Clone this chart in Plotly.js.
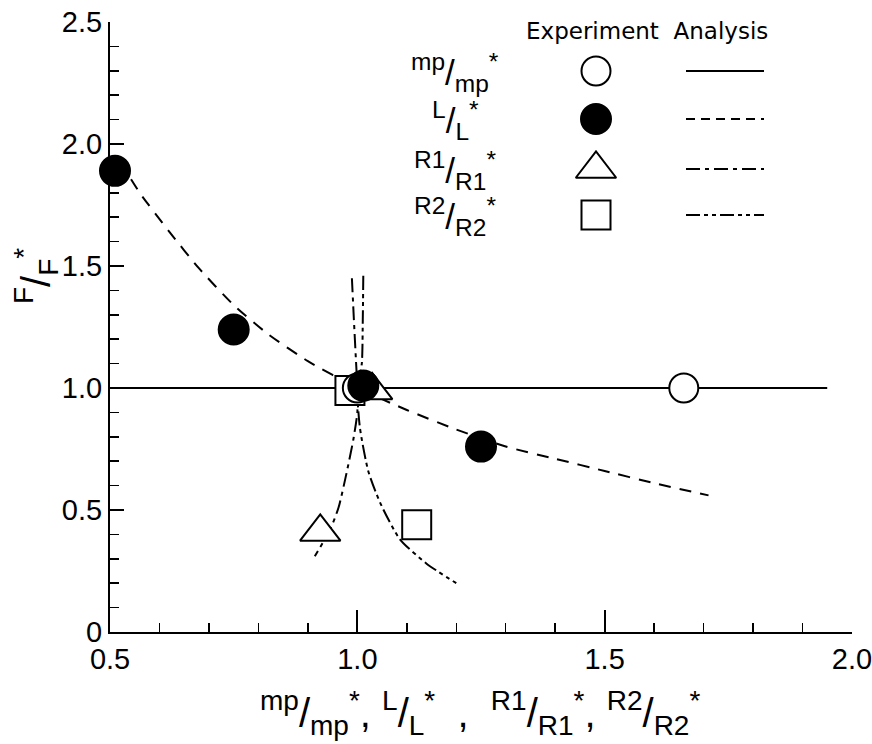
<!DOCTYPE html>
<html>
<head>
<meta charset="utf-8">
<script src="https://cdn.plot.ly/plotly-3.0.1.min.js"></script>
<style>html,body{margin:0;padding:0;background:#fff;}</style>
</head>
<body>
<div id="chart" style="width:872px;height:744px;"></div>
<script>
// ---- Experiment (markers) ----
const mpX = [1.0, 1.66];
const mpY = [1.0, 1.0];
const lX = [0.51, 0.75, 1.012, 1.25];
const lY = [1.89, 1.24, 1.01, 0.76];
const r1X = [1.03, 0.925];
const r1Y = [0.99, 0.41];
const r2X = [0.985, 1.12];
const r2Y = [0.99, 0.44];

// ---- Analysis (lines) ----
const mpLineX = [0.5, 1.95];
const mpLineY = [1.0, 1.0];
const lLineX = [0.52, 0.56, 0.62, 0.68, 0.75, 0.82, 0.9, 1.0, 1.1, 1.2, 1.3, 1.4, 1.5, 1.6, 1.71];
const lLineY = [1.93, 1.80, 1.64, 1.49, 1.34, 1.22, 1.11, 1.0, 0.91, 0.83, 0.76, 0.71, 0.66, 0.61, 0.56];
const r1LineX = [0.989, 0.993, 0.997, 1.0, 1.0, 0.992, 0.978, 0.962, 0.945, 0.914];
const r1LineY = [1.45, 1.28, 1.12, 1.0, 0.90, 0.79, 0.65, 0.51, 0.42, 0.31];
const r2LineX = [1.012, 1.011, 1.009, 1.0, 1.005, 1.022, 1.046, 1.086, 1.14, 1.2];
const r2LineY = [1.46, 1.28, 1.10, 1.0, 0.84, 0.66, 0.53, 0.38, 0.28, 0.2];

// ---- Axis ticks ----
const xTickVals = [0.5, 1.0, 1.5, 2.0];
const xTickText = ['0.5', '1.0', '1.5', '2.0'];
const yTickVals = [0, 0.5, 1.0, 1.5, 2.0, 2.5];
const yTickText = ['0', '0.5', '1.0', '1.5', '2.0', '2.5'];

// ---- Legend labels ----
const seriesLabels = [
  '<sup>mp</sup>/<sub>mp</sub><sup>*</sup>',
  '<sup>L</sup>/<sub>L</sub><sup>*</sup>',
  '<sup>R1</sup>/<sub>R1</sub><sup>*</sup>',
  '<sup>R2</sup>/<sub>R2</sub><sup>*</sup>'
];
const legendHeader = 'Experiment  Analysis';
const xTitle = '<sup>mp</sup>/<sub>mp</sub><sup>*</sup>, <sup>L</sup>/<sub>L</sub><sup>*</sup>  ,  <sup>R1</sup>/<sub>R1</sub><sup>*</sup>, <sup>R2</sup>/<sub>R2</sub><sup>*</sup>';
const yTitle = '<sup>F</sup>/<sub>F</sub><sup>*</sup>';

const BLACK = '#000';
const dashR1 = '14px,5px,4px,5px';
const dashR2 = '14px,4px,4px,4px,4px,4px';
const dashL = '12px,9px';

const symbols = ['circle', 'circle', 'triangle-up', 'square'];
const fills = ['#fff', BLACK, '#fff', '#fff'];
const sizes = [29, 30, 35, 29];
const dashes = ['solid', dashL, dashR1, dashR2];
const legDashes = ['solid', '9px,6px', dashR1, dashR2];

function lineTrace(x, y, dash) {
  return {x: x, y: y, type: 'scatter', mode: 'lines', line: {color: BLACK, width: 2, dash: dash, shape: 'spline', smoothing: 0.6}, hoverinfo: 'skip'};
}
function markerTrace(x, y, i) {
  return {x: x, y: y, type: 'scatter', mode: 'markers', cliponaxis: false,
    marker: {symbol: symbols[i], size: sizes[i], color: fills[i], line: {color: BLACK, width: 2}}, hoverinfo: 'skip'};
}

const data = [
  lineTrace(mpLineX, mpLineY, dashes[0]),
  lineTrace(lLineX, lLineY, dashes[1]),
  lineTrace(r1LineX, r1LineY, dashes[2]),
  lineTrace(r2LineX, r2LineY, dashes[3]),
  markerTrace(r2X, r2Y, 3),
  markerTrace(r1X, r1Y, 2),
  markerTrace(mpX, mpY, 0),
  markerTrace(lX, lY, 1)
];

// ---- Custom legend on an overlay axis in pixel units ----
const legRowY = [71, 119, 169, 215];
const legMarkerX = 596;
const legLineX0 = 686, legLineX1 = 764;
const annotations = [];
legRowY.forEach(function (py, i) {
  data.push({x: [legMarkerX], y: [py], xaxis: 'x2', yaxis: 'y2', type: 'scatter', mode: 'markers', cliponaxis: false,
    marker: {symbol: symbols[i], size: sizes[i], color: fills[i], line: {color: BLACK, width: 2}}, hoverinfo: 'skip'});
  data.push({x: [legLineX0, legLineX1], y: [py, py], xaxis: 'x2', yaxis: 'y2', type: 'scatter', mode: 'lines', cliponaxis: false,
    line: {color: BLACK, width: 2, dash: legDashes[i]}, hoverinfo: 'skip'});
  annotations.push({xref: 'x2', yref: 'y2', x: 455, y: py + 1, text: seriesLabels[i], showarrow: false,
    xanchor: 'center', yanchor: 'middle', font: {family: 'Liberation Sans, Arial, sans-serif', size: 35, color: BLACK}});
});
annotations.push({xref: 'x2', yref: 'y2', x: 647, y: 31, text: legendHeader, showarrow: false,
  xanchor: 'center', yanchor: 'middle', font: {family: 'DejaVu Sans, sans-serif', size: 23, color: BLACK}});
// titles placed in paper coordinates (outside the plot area)
annotations.push({xref: 'paper', yref: 'paper', x: (480 - 110) / 742, y: -(713 - 632) / 610, text: xTitle, showarrow: false,
  xanchor: 'center', yanchor: 'middle', font: {family: 'Liberation Sans, Arial, sans-serif', size: 40, color: BLACK}});
annotations.push({xref: 'paper', yref: 'paper', x: -(110 - 36) / 742, y: (632 - 276) / 610, text: yTitle, showarrow: false, textangle: -90,
  xanchor: 'center', yanchor: 'middle', font: {family: 'Liberation Sans, Arial, sans-serif', size: 40, color: BLACK}});

const tickFont = {family: 'Liberation Sans Narrow, Liberation Sans, Arial, sans-serif', size: 29, color: BLACK};

const layout = {
  width: 872, height: 744,
  margin: {l: 110, r: 20, t: 22, b: 112, pad: 0},
  paper_bgcolor: '#fff', plot_bgcolor: '#fff',
  showlegend: false,
  xaxis: {
    range: [0.4999, 2.0001], tickvals: xTickVals, ticktext: xTickText,
    ticks: 'inside', ticklen: 22, tickwidth: 2, tickcolor: BLACK, ticklabeloverflow: 'allow',
    showline: true, linewidth: 2, linecolor: BLACK, showgrid: false, zeroline: false,
    tickfont: tickFont, layer: 'below traces', fixedrange: true,
    minor: {dtick: 0.1, tick0: 0.5, ticks: 'inside', ticklen: 9, tickwidth: 1.5, tickcolor: BLACK, showgrid: false}
  },
  yaxis: {
    range: [0, 2.5001], tickvals: yTickVals, ticktext: yTickText,
    ticks: 'inside', ticklen: 14, tickwidth: 2, tickcolor: BLACK, ticklabeloverflow: 'allow',
    showline: true, linewidth: 2, linecolor: BLACK, showgrid: false, zeroline: false,
    tickfont: tickFont, layer: 'below traces', fixedrange: true,
    minor: {dtick: 0.1, tick0: 0, ticks: 'inside', ticklen: 9, tickwidth: 1.5, tickcolor: BLACK, showgrid: false}
  },
  xaxis2: {overlaying: 'x', range: [110, 852], visible: false, fixedrange: true},
  yaxis2: {overlaying: 'y', range: [632, 22], visible: false, fixedrange: true},
  annotations: annotations
};

Plotly.newPlot('chart', data, layout, {staticPlot: true, displayModeBar: false});
</script>
</body>
</html>
